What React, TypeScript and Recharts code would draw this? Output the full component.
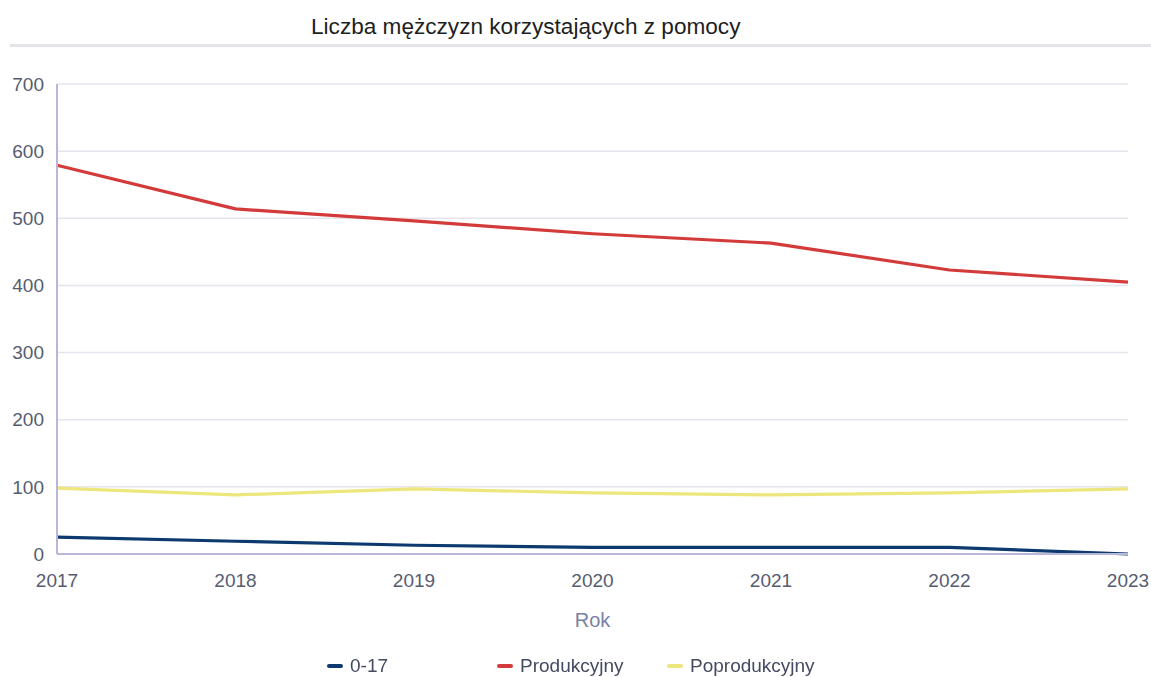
import React from "react";
import {
  LineChart,
  Line,
  CartesianGrid,
  XAxis,
  YAxis,
  Legend,
} from "recharts";

const years = [2017, 2018, 2019, 2020, 2021, 2022, 2023];
const age0to17 = [25, 19, 13, 10, 10, 10, 0];
const produkcyjny = [579, 514, 496, 477, 463, 423, 405];
const poprodukcyjny = [98, 88, 97, 91, 88, 91, 97];
const yTicks = [0, 100, 200, 300, 400, 500, 600, 700];

const seriesMeta = [
  { key: "a", name: "0-17", color: "#0d3a6e" },
  { key: "p", name: "Produkcyjny", color: "#d33a3a" },
  { key: "pp", name: "Poprodukcyjny", color: "#ede67c" },
];

const data = years.map((year, i) => ({
  year,
  a: age0to17[i],
  p: produkcyjny[i],
  pp: poprodukcyjny[i],
}));

const font = "'Liberation Sans', Arial, sans-serif";

function LegendRow() {
  return (
    <div style={{ display: "flex", fontFamily: font, fontSize: 19, color: "#444a62" }}>
      {seriesMeta.map((s) => (
        <div key={s.key} style={{ width: 170, display: "flex", alignItems: "center" }}>
          <span
            style={{
              display: "inline-block",
              width: 16,
              height: 4,
              borderRadius: 2,
              background: s.color,
              marginRight: 7,
            }}
          />
          {s.name}
        </div>
      ))}
    </div>
  );
}

export default function App() {
  return (
    <div
      style={{
        position: "fixed",
        left: 0,
        top: 0,
        width: 1151,
        height: 677,
        background: "#fff",
        fontFamily: font,
      }}
    >
      <div
        style={{
          position: "absolute",
          left: 311,
          top: 14,
          fontSize: 22.6,
          color: "#1e1e1e",
          whiteSpace: "nowrap",
        }}
      >
        Liczba mężczyzn korzystających z pomocy
      </div>
      <div
        style={{
          position: "absolute",
          left: 10,
          top: 44,
          width: 1141,
          height: 3,
          background: "#e3e3ea",
        }}
      />
      <LineChart
        width={1151}
        height={677}
        data={data}
        margin={{ top: 84, right: 23, left: 10, bottom: 0 }}
      >
        <CartesianGrid vertical={false} stroke="#e4e4ee" strokeWidth={1.5} />
        <XAxis
          dataKey="year"
          type="number"
          domain={[2017, 2023]}
          ticks={years}
          height={99}
          tickLine={false}
          axisLine={{ stroke: "#b9b7d8", strokeWidth: 2 }}
          tick={{ fill: "#565c70", fontSize: 19, fontFamily: font, dy: 12 }}
          label={{
            value: "Rok",
            position: "insideTop",
            offset: 59,
            fill: "#7981a6",
            fontSize: 20,
            fontFamily: font,
          }}
        />
        <YAxis
          domain={[0, 700]}
          ticks={yTicks}
          width={47}
          tickLine={false}
          axisLine={{ stroke: "#b9b7d8", strokeWidth: 2 }}
          tick={{ fill: "#565c70", fontSize: 19, fontFamily: font, dx: -5 }}
        />
        <Legend
          verticalAlign="bottom"
          content={() => <LegendRow />}
          wrapperStyle={{ position: "absolute", left: 327, top: 655, width: 600, height: 24 }}
        />
        {seriesMeta.map((s) => (
          <Line
            key={s.key}
            type="linear"
            dataKey={s.key}
            name={s.name}
            stroke={s.color}
            strokeWidth={3.2}
            strokeLinejoin="round"
            dot={false}
            isAnimationActive={false}
          />
        ))}
      </LineChart>
    </div>
  );
}
